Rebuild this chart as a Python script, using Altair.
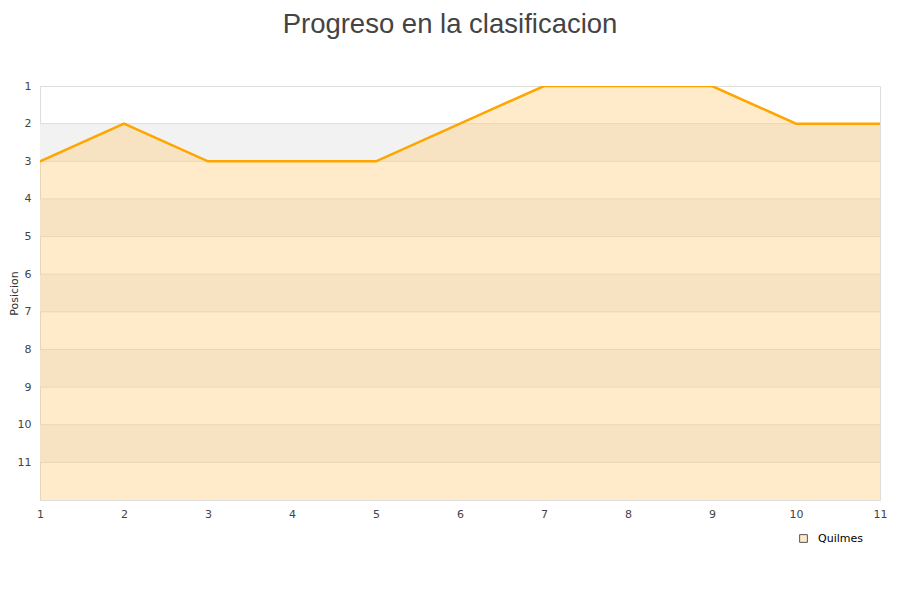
import altair as alt
import pandas as pd

jornadas = [1, 2, 3, 4, 5, 6, 7, 8, 9, 10, 11]
posicion = [3, 2, 3, 3, 3, 2, 1, 1, 1, 2, 2]
equipo = "Quilmes"
band_start = [2, 4, 6, 8, 10]
band_end = [3, 5, 7, 9, 11]
grid_vals = [2, 3, 4, 5, 6, 7, 8, 9, 10, 11]
y_ticks = [1, 2, 3, 4, 5, 6, 7, 8, 9, 10, 11]

df = pd.DataFrame({"Jornada": jornadas, "Posicion": posicion, "Equipo": [equipo] * len(jornadas)})
bands = pd.DataFrame({"y0": band_start, "y1": band_end})
grid = pd.DataFrame({"g": grid_vals})

xs = alt.Scale(domain=[1, 11], nice=False, zero=False)
ys = alt.Scale(domain=[1, 12], nice=False, zero=False, reverse=True)

band_layer = alt.Chart(bands).mark_rect(color="#F2F2F2").encode(
    x=alt.X(datum=1, scale=xs,
            axis=alt.Axis(values=jornadas, format="d", title=None, ticks=False, domain=False, grid=False,
                          labelFont="DejaVu Sans", labelFontSize=11, labelColor="#444444",
                          labelPadding=8, labelFlush=False)),
    x2=alt.X2(datum=11),
    y=alt.Y("y0:Q", scale=ys,
            axis=alt.Axis(values=y_ticks, format="d", title="Posicion", ticks=False, domain=False, grid=False,
                          labelFont="DejaVu Sans", labelFontSize=11, labelColor="#444444",
                          labelPadding=9, titleFont="DejaVu Sans", titleFontSize=11,
                          titleFontWeight="normal", titleColor="#333333",
                          titleX=-32, titleY=207, titleBaseline="top", titleAngle=270)),
    y2="y1:Q",
)

grid_layer = alt.Chart(grid).mark_rule(color="#DDDDDD", strokeWidth=1).encode(
    y=alt.Y("g:Q", scale=ys),
    x=alt.X(datum=1, scale=xs),
    x2=alt.X2(datum=11),
)

area = alt.Chart(df).mark_area(color="#FFCD78", opacity=0.4, interpolate="linear").encode(
    x=alt.X("Jornada:Q", scale=xs),
    y=alt.Y("Posicion:Q", scale=ys),
    y2=alt.Y2(datum=12),
)

legend_layer = alt.Chart(df).mark_point(filled=True, opacity=0).encode(
    x=alt.X("Jornada:Q", scale=xs),
    y=alt.Y("Posicion:Q", scale=ys),
    fill=alt.Fill("Equipo:N", scale=alt.Scale(range=["#FFEBC9"]),
                  legend=alt.Legend(title=None, orient="none", legendX=758, legendY=447,
                                    symbolType="square", symbolSize=60, symbolStrokeColor="#555555",
                                    symbolStrokeWidth=1, symbolOpacity=1, labelOffset=9,
                                    labelFont="DejaVu Sans", labelFontSize=11, labelColor="#000000")),
)

line = alt.Chart(df).mark_line(color="#FFA500", strokeWidth=2.5, clip=True).encode(
    x=alt.X("Jornada:Q", scale=xs),
    y=alt.Y("Posicion:Q", scale=ys),
)

chart = alt.layer(band_layer, grid_layer, area, legend_layer, line).properties(
    width=840,
    height=414,
    title=alt.TitleParams("Progreso en la clasificacion", font="Liberation Sans", fontSize=27.5,
                          fontWeight="normal", color="#444444", offset=42, dx=-10),
    autosize=alt.AutoSizeParams(type="none"),
    padding={"left": 32, "top": 78, "right": 12, "bottom": 92},
).configure_view(stroke="#DDDDDD").configure(background="white")

chart.save("out.html", embed_options={"renderer": "svg", "actions": False})
